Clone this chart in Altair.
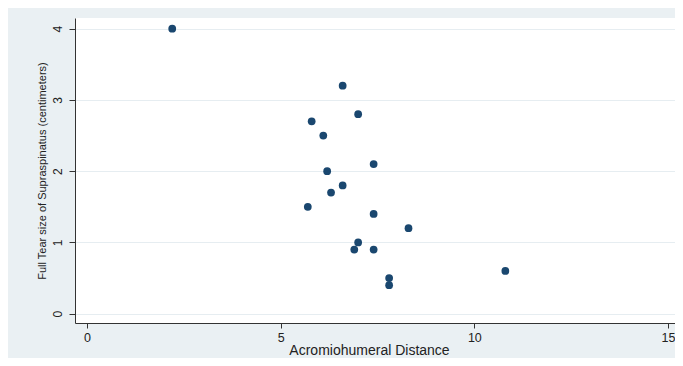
import altair as alt
import pandas as pd

acromiohumeral = [2.2, 6.6, 7.0, 5.8, 6.1, 7.4, 6.2, 6.6, 6.3, 5.7, 7.4, 8.3, 7.0, 6.9, 7.4, 7.8, 7.8, 10.8]
tear_size = [4.0, 3.2, 2.8, 2.7, 2.5, 2.1, 2.0, 1.8, 1.7, 1.5, 1.4, 1.2, 1.0, 0.9, 0.9, 0.5, 0.4, 0.6]
x_ticks = [0, 5, 10, 15]
y_ticks = [0, 1, 2, 3, 4]

df = pd.DataFrame({"x": acromiohumeral, "y": tear_size})

font = "Liberation Sans"
chart = alt.Chart(df).mark_circle(size=60, opacity=1, color="#1a476f").encode(
    x=alt.X("x:Q", scale=alt.Scale(domain=[-0.31, 15.18], nice=False, zero=False),
            axis=alt.Axis(title="Acromiohumeral Distance", values=x_ticks, grid=False,
                          domainColor="#333333", tickColor="#333333", tickSize=5,
                          labelFont=font, labelFontSize=12.5, labelColor="#222222",
                          titleFont=font, titleFontSize=14, titleFontWeight="normal",
                          titleColor="#222222", titlePadding=0, labelPadding=3,
                          titleX=294, titleAlign="center",
                          labelFlush=False)),
    y=alt.Y("y:Q", scale=alt.Scale(domain=[-0.13, 4.15], nice=False, zero=False),
            axis=alt.Axis(title="Full Tear size of Supraspinatus (centimeters)", values=y_ticks,
                          grid=True, gridColor="#e6edf1", gridWidth=1.2,
                          domainColor="#333333", tickColor="#333333", tickSize=6,
                          labelAngle=-90, labelAlign="center", labelBaseline="bottom",
                          labelFont=font, labelFontSize=12, labelColor="#222222",
                          labelPadding=5, labelFlush=False,
                          titleFont=font, titleFontSize=11, titleFontWeight="normal",
                          titleColor="#222222", titlePadding=4)),
).properties(
    width=600, height=305,
    background="#eaf0f3",
    padding={"left": 67, "top": 10, "right": 0, "bottom": 35},
    autosize=alt.AutoSizeParams(type="none"),
).configure_view(fill="white", stroke=None)

chart.save("out.html", embed_options={"renderer": "svg", "actions": False})
